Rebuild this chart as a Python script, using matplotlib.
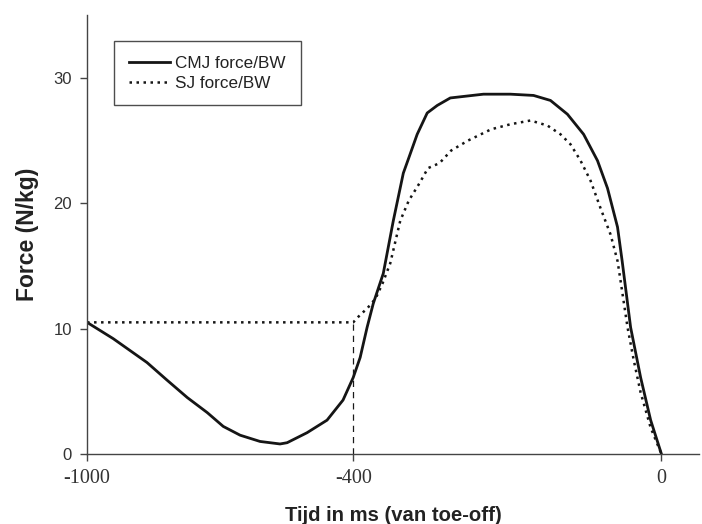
import matplotlib
matplotlib.use('Agg')
import matplotlib.pyplot as plt
import numpy as np

plt.rcParams['font.family'] = ['Liberation Sans', 'DejaVu Sans']

# tijd (ms, t.o.v. toe-off) en kracht (N/kg)
cmj_t = [-1000, -941, -865, -820, -774, -729, -693, -655, -610, -565, -549, -504, -459,
         -423, -400, -391, -382, -374, -361, -348, -335, -328, -317, -304, -291, -274,
         -231, -196, -166, -144, -122, -101, -83, -70, -57, -51, -40, -27, -14, 0]
cmj_f = [10.5, 9.2, 7.3, 5.9, 4.5, 3.3, 2.2, 1.5, 1.0, 0.8, 0.9, 1.7, 2.7,
         4.3, 6.1, 7.7, 10.1, 12.0, 14.4, 18.6, 22.4, 23.6, 25.5, 27.2, 27.8, 28.4,
         28.7, 28.7, 28.6, 28.2, 27.1, 25.5, 23.4, 21.2, 18.1, 15.4, 10.1, 6.1, 2.7, 0]

sj_t = [-1000, -900, -800, -700, -600, -500, -400, -391, -382, -371, -362, -352, -339,
        -328, -314, -303, -288, -273, -251, -221, -196, -170, -148, -131, -118, -105,
        -92, -79, -66, -57, -53, -44, -36, -27, -14, 0]
sj_f = [10.5, 10.5, 10.5, 10.5, 10.5, 10.5, 10.5, 11.1, 11.6, 12.4, 13.6, 15.2, 18.6,
        20.2, 21.6, 22.8, 23.2, 24.2, 25.0, 25.9, 26.3, 26.6, 26.2, 25.5, 24.7, 23.4,
        21.8, 19.6, 17.5, 15.4, 13.8, 10.1, 7.5, 4.9, 2.1, 0]

x_ticks = [-1000, -400, 0]
y_ticks = [0, 10, 20, 30]

# x-as is niet lineair (categorie-as): stukjes lineair
ms_pts = np.array([-3000.0, -1000.0, -400.0, 0.0, 1000.0])
pos_pts = np.array([-2000 * 0.4433, 0.0, 266.0, 574.0, 574.0 + 770.0])


def fwd(x):
    return np.interp(x, ms_pts, pos_pts)


def inv(p):
    return np.interp(p, pos_pts, ms_pts)


fig = plt.figure(figsize=(7.02, 5.24), dpi=100)
ax = fig.add_axes([0.124, 0.1336, 0.872, 0.8374])
ax.set_xscale('function', functions=(fwd, inv))

ax.plot(cmj_t, cmj_f, color='#151515', lw=2.0, label='CMJ force/BW')
ax.plot(sj_t, sj_f, color='#151515', lw=1.8, linestyle=(0, (1, 1.8)), label='SJ force/BW')
ax.vlines(-400, 0, sj_f[sj_t.index(-400)], color='#1a1a1a', lw=0.9,
          linestyles=(0, (5, 4)))

ax.set_xlim(-1000, 49)
ax.set_ylim(0, 35)
ax.set_xticks(x_ticks)
ax.set_xticklabels([str(v) for v in x_ticks], family='Liberation Serif', fontsize=14.5)
ax.set_yticks(y_ticks)
ax.xaxis.set_minor_locator(plt.NullLocator())

for s in ['top', 'right']:
    ax.spines[s].set_visible(False)
for s in ['left', 'bottom']:
    ax.spines[s].set_color('#444444')
    ax.spines[s].set_linewidth(1.0)

ax.tick_params(axis='both', direction='out', length=5, width=1, color='#444444',
               labelcolor='#333333')
ax.tick_params(axis='y', labelsize=12, pad=6)
ax.tick_params(axis='x', pad=6)

ax.set_xlabel('Tijd in ms (van toe-off)', fontsize=14.6, fontweight='bold',
              color='#222222', labelpad=13)
ax.set_ylabel('Force (N/kg)', fontsize=16.5, fontweight='bold', color='#222222',
              labelpad=10)

leg = ax.legend(loc='upper left', bbox_to_anchor=(0.044, 0.941), borderaxespad=0,
                fontsize=12.3, frameon=True, fancybox=False, edgecolor='#222222',
                handlelength=2.4, handletextpad=0.35, borderpad=0.85,
                labelspacing=0.3)
leg.get_frame().set_linewidth(1.0)
for t in leg.get_texts():
    t.set_color('#222222')

fig.savefig('out.png', dpi=100)
